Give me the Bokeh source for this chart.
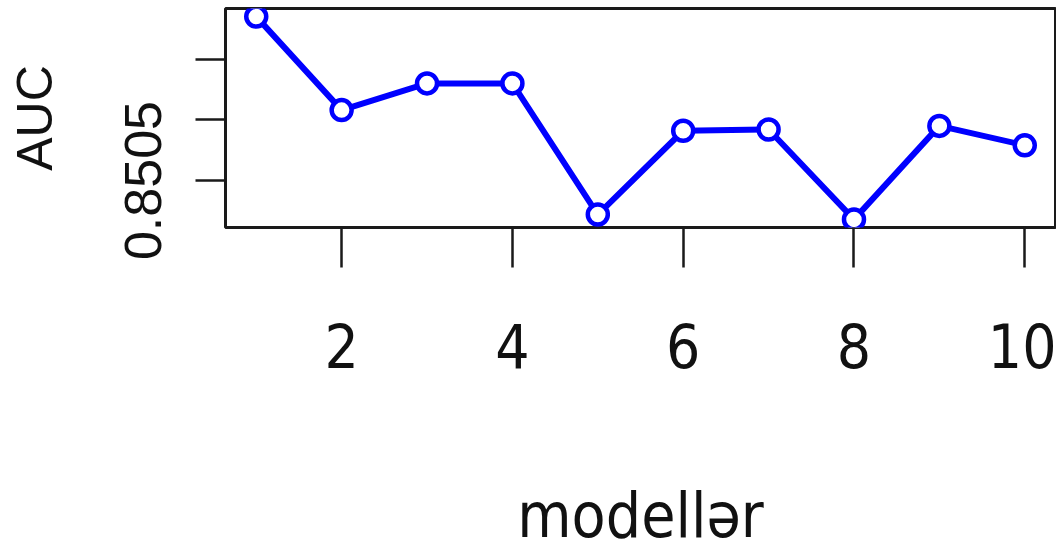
from bokeh.plotting import figure
from bokeh.models import Range1d, FixedTicker
from bokeh.embed import file_html
from bokeh.resources import INLINE

# AUC for each of the ten models
models = [1, 2, 3, 4, 5, 6, 7, 8, 9, 10]
auc = [0.85185, 0.85108, 0.85130, 0.85130, 0.85022,
       0.85091, 0.85092, 0.85018, 0.85095, 0.85079]

x_ticks = [2, 4, 6, 8, 10]
y_ticks = [0.8505, 0.8510, 0.8515]
y_tick_labels = {0.8505: "0.8505", 0.8510: "", 0.8515: ""}

# R-style 4% padding around the data range
def padded(lo, hi, frac=0.04):
    d = (hi - lo) * frac
    return lo - d, hi + d

x0, x1 = padded(min(models), max(models))
y0, y1 = padded(min(auc), max(auc))

NARROW = "'Liberation Sans Narrow', 'DejaVu Sans Condensed', 'Arial Narrow', sans-serif"

p = figure(width=1056, height=554, output_backend="svg", toolbar_location=None,
           x_range=Range1d(x0, x1), y_range=Range1d(y0, y1),
           min_border_left=225, min_border_right=1, min_border_top=8,
           min_border_bottom=325, background_fill_color="white",
           border_fill_color="white")

p.grid.visible = False
p.outline_line_color = "#1a1a1a"
p.outline_line_width = 3

p.line(models, auc, line_color="#0000ff", line_width=6)
p.scatter(models, auc, size=20, marker="circle", fill_color="white",
          line_color="#0000ff", line_width=4.5)

xa = p.xaxis[0]
xa.ticker = FixedTicker(ticks=x_ticks)
xa.axis_line_color = None
xa.major_tick_out = 40
xa.major_tick_in = 0
xa.major_tick_line_width = 2.5
xa.major_tick_line_color = "#1a1a1a"
xa.minor_tick_line_color = None
xa.major_label_text_font = NARROW
xa.major_label_text_font_size = "60px"
xa.major_label_text_color = "#111111"
xa.major_label_standoff = 55
xa.axis_label = "modellər"
xa.axis_label_text_font = NARROW
xa.axis_label_text_font_size = "62px"
xa.axis_label_text_font_style = "normal"
xa.axis_label_text_color = "#111111"
xa.axis_label_standoff = 108

ya = p.yaxis[0]
ya.ticker = FixedTicker(ticks=y_ticks)
ya.major_label_overrides = y_tick_labels
ya.major_label_orientation = "vertical"
ya.axis_line_color = None
ya.major_tick_out = 30
ya.major_tick_in = 0
ya.major_tick_line_width = 2.5
ya.major_tick_line_color = "#1a1a1a"
ya.minor_tick_line_color = None
ya.major_label_text_font = "Liberation Sans"
ya.major_label_text_font_size = "52px"
ya.major_label_text_color = "#111111"
ya.major_label_standoff = 34
ya.axis_label = "AUC"
ya.axis_label_text_font = "Liberation Sans"
ya.axis_label_text_font_size = "50px"
ya.axis_label_text_font_style = "normal"
ya.axis_label_text_color = "#111111"
ya.axis_label_standoff = 60

open("out.html", "w").write(file_html(p, INLINE))
